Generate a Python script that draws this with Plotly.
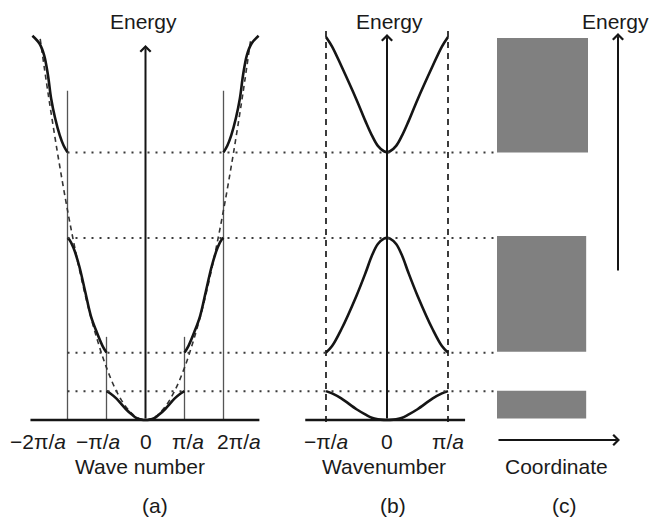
import plotly.graph_objects as go

# ---------------- data (energy in arbitrary units, wave number in units of pi/a) ----------------
band_bottom = [0.4, 17.7, 69.5]          # allowed bands (c)
band_top = [7.6, 47.8, 99.2]
band_width = [0.98, 0.98, 1.0]

level_E = [7.5, 17.5, 47.3, 69.5]        # band edges (dotted guides)

# reduced zone scheme (b)
kb = [-1.0, -0.9, -0.75, -0.5, -0.35, -0.25, -0.15, -0.05, 0.0,
      0.05, 0.15, 0.25, 0.35, 0.5, 0.75, 0.9, 1.0]
band1_b = [7.5, 6.9, 5.6, 2.8, 1.4, 0.6, 0.2, 0.02, 0.0,
           0.02, 0.2, 0.6, 1.4, 2.8, 5.6, 6.9, 7.5]
band2_b = [17.5, 19.2, 23.5, 32.3, 38.3, 42.6, 45.7, 47.1, 47.3,
           47.1, 45.7, 42.6, 38.3, 32.3, 23.5, 19.2, 17.5]
band3_b = [99.5, 97.0, 92.0, 83.2, 77.5, 74.0, 71.2, 69.8, 69.6,
           69.8, 71.2, 74.0, 77.5, 83.2, 92.0, 97.0, 99.5]

# extended zone scheme (a)
band1_a_k = kb
band1_a_E = band1_b
band2_a_k = [1.0, 1.1, 1.25, 1.4, 1.55, 1.7, 1.85, 1.95, 2.0]
band2_a_E = [17.5, 19.2, 22.8, 27.0, 33.5, 40.0, 44.8, 46.8, 47.3]
band3_a_k = [2.0, 2.1, 2.2, 2.32, 2.42, 2.5, 2.6, 2.72, 2.9]
band3_a_E = [69.5, 71.3, 74.0, 78.5, 83.5, 89.5, 94.8, 97.8, 99.8]
free_k = [-2.7, -2.5, -2.25, -2.0, -1.75, -1.5, -1.25, -1.0, -0.75, -0.5, -0.25, 0.0,
          0.25, 0.5, 0.75, 1.0, 1.25, 1.5, 1.75, 2.0, 2.25, 2.5, 2.7]
free_E = [99.0, 85.0, 69.0, 54.5, 41.7, 30.6, 21.3, 13.6, 7.6, 3.4, 0.85, 0.0,
          0.85, 3.4, 7.6, 13.6, 21.3, 30.6, 41.7, 54.5, 69.0, 85.0, 99.0]

zone_a = [-2, -1, 1, 2]
zone_a_top = [85.5, 21.6, 21.6, 85.5]

ticks_a = [-2, -1, 0, 1, 2]
ticks_a_text = ["\u22122\u03c0/<i>a</i>", "\u2212\u03c0/<i>a</i>", "0", "\u03c0/<i>a</i>", "2\u03c0/<i>a</i>"]
ticks_b = [-1, 0, 1]
ticks_b_text = ["\u2212\u03c0/<i>a</i>", "0", "\u03c0/<i>a</i>"]

# ---------------- layout geometry (pixels) ----------------
W, H = 651, 517
Y0, YU = 420.0, 3.85
A0, AU = 145.5, 39.0
B0, BU = 387.0, 61.0
C0, CU = 497.0, 91.0

def a_px(k):
    return A0 + AU * k

def c_from_px(px):
    return (px - C0) / CU

def E_from_px(py):
    return (Y0 - py) / YU

INK = "#151515"
FONT = dict(family="Liberation Sans, Arial, Helvetica, sans-serif", size=21, color="#1a1a1a")

fig = go.Figure()

def line(x, y, xa="x", color=INK, width=2.6, dash="solid", shape="linear"):
    fig.add_trace(go.Scatter(x=x, y=y, xaxis=xa, yaxis="y", mode="lines",
                             line=dict(color=color, width=width, dash=dash, shape=shape,
                                       smoothing=1.0),
                             hoverinfo="skip", showlegend=False))

# dotted guides from panel (a) to the bands of panel (c)
x_start = c_from_px(a_px(-2))
for e in level_E:
    line([x_start, 0], [e, e], xa="x3", color="#3a3a3a", width=2.0, dash="2px,6px")

# panel (a)
for k, top in zip(zone_a, zone_a_top):
    line([k, k], [0, top], color="#555555", width=1.3)
line(free_k, free_E, color="#333333", width=1.6, dash="5px,4px", shape="spline")
line(band1_a_k, band1_a_E, shape="spline")
line(band2_a_k, band2_a_E, shape="spline")
line([-k for k in band2_a_k], band2_a_E, shape="spline")
line(band3_a_k, band3_a_E, shape="spline")
line([-k for k in band3_a_k], band3_a_E, shape="spline")
line([-2.95, 2.92], [0, 0], width=2.4)

# panel (b)
for k in ticks_b[::2]:
    line([k, k], [-0.5, 101.3], xa="x2", color="#333333", width=1.9, dash="6px,5px")
line(kb, band1_b, xa="x2", shape="spline")
line(kb, band2_b, xa="x2", shape="spline")
line(kb, band3_b, xa="x2", shape="spline")
line([-1.34, 1.28], [0, 0], xa="x2", width=2.4)

# panel (c) bands
fig.add_trace(go.Bar(x=[w / 2 for w in band_width], y=[t - b for t, b in zip(band_top, band_bottom)],
                     base=band_bottom, width=band_width, xaxis="x3", yaxis="y",
                     marker=dict(color="#808080", line=dict(width=0)),
                     hoverinfo="skip", showlegend=False))

# arrows
def arrow(x, y, ax, ay, xref):
    fig.add_annotation(x=x, y=y, ax=ax, ay=ay, xref=xref, yref="y", axref=xref, ayref="y",
                       text="", showarrow=True, arrowhead=4, arrowsize=1.0, arrowwidth=2,
                       arrowcolor=INK, standoff=0, startstandoff=0)

arrow(0, E_from_px(45), 0, 0, "x")
arrow(0, E_from_px(34), 0, 0, "x2")
arrow(c_from_px(618), E_from_px(33), c_from_px(618), E_from_px(272), "x3")
arrow(c_from_px(620), E_from_px(440), 0, E_from_px(440), "x3")

# text
def label(text, px, py, xshift=0):
    fig.add_annotation(x=px / W, y=1 - py / H, xref="paper", yref="paper", text=text,
                       showarrow=False, xanchor="center", yanchor="middle", font=FONT,
                       xshift=xshift)

for k, t, sh in zip(ticks_a, ticks_a_text, [-30, -9, 0, 3.5, 15]):
    label(t, a_px(k), 441, sh)
for k, t in zip(ticks_b, ticks_b_text):
    label(t, B0 + BU * k, 441)

label("Energy", 143.5, 21)
label("Energy", 389, 21)
label("Energy", 615, 21)
label("Wave number", 140, 466)
label("Wavenumber", 383.5, 466)
label("Coordinate", 556, 466)
label("(a)", 155, 505)
label("(b)", 393, 505)
label("(c)", 564.5, 505)

ax_common = dict(visible=False, domain=[0, 1], anchor="y", fixedrange=True)
fig.update_layout(
    width=W, height=H, margin=dict(l=0, r=0, t=0, b=0),
    paper_bgcolor="white", plot_bgcolor="rgba(0,0,0,0)",
    barmode="overlay", showlegend=False,
    xaxis=dict(range=[-A0 / AU, (W - A0) / AU], **ax_common),
    xaxis2=dict(range=[-B0 / BU, (W - B0) / BU], overlaying="x", **ax_common),
    xaxis3=dict(range=[-C0 / CU, (W - C0) / CU], overlaying="x", **ax_common),
    yaxis=dict(range=[-(H - Y0) / YU, Y0 / YU], visible=False, domain=[0, 1], fixedrange=True),
)

fig.write_html("out.html")
